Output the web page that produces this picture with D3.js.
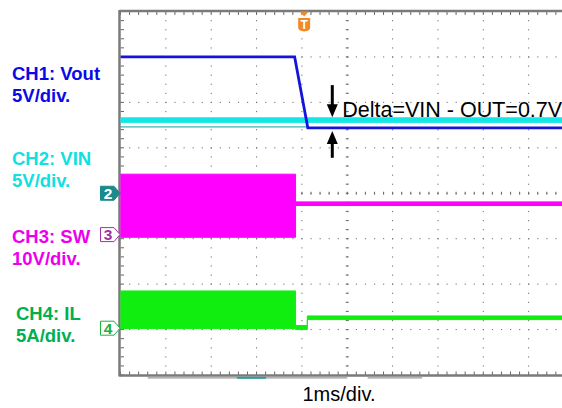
<!doctype html>
<html>
<head>
<meta charset="utf-8">
<script src="https://cdn.jsdelivr.net/npm/d3@7/dist/d3.min.js"></script>
<style>
body {margin: 0; background: #fff;}
svg {display: block;}
</style>
</head>
<body>
<svg id="scope" width="562" height="408"></svg>
<script>
// time axis: 1 ms/div, screen starts at t = 0
var divsX = 10, divsY = 8;

// CH1 Vout (V), 5V/div
var voutTime = [0, 3.84, 4.13, 10];
var voutVal  = [15.0, 15.0, 7.2, 7.2];

// CH2 VIN (V), 5V/div - noisy band
var vinTime = [0, 10];
var vinLow  = [7.8, 7.8];
var vinHigh = [8.3, 8.3];

// thin reference trace under the VIN band (V)
var refTime = [0, 4.13];
var refVal  = [7.3, 7.3];

// CH3 SW (V), 10V/div - switching band then flat
var swTime = [0, 3.86, 3.86, 10];
var swLow  = [-0.6, -0.6, 6.4, 6.4];
var swHigh = [13.3, 13.3, 7.2, 7.2];

// CH4 IL (A), 5A/div
var ilTime = [0, 3.86, 3.86, 4.12, 4.12, 10];
var ilLow  = [-0.05, -0.05, -0.15, -0.15, 0.95, 0.95];
var ilHigh = [4.1, 4.1, 0.3, 0.3, 1.35, 1.35];

var triggerTime = 4.05;
var arrowTime = 4.67;
var deltaLabel = "Delta=VIN - OUT=0.7V";

var labels = [
  {ch: "ch1", lines: ["CH1: Vout", "5V/div."]},
  {ch: "ch2", lines: ["CH2: VIN", "5V/div."]},
  {ch: "ch3", lines: ["CH3: SW", "10V/div."]},
  {ch: "ch4", lines: ["CH4: IL", "5A/div."]}
];

var channels = {
  ch1: {perDiv: 5,  offset: 0,     trace: "#1414dc", text: "#0a0ae6", labelX: 12, labelY: 80},
  ch2: {perDiv: 5,  offset: 0,     trace: "#14e6e6", text: "#10e0e0", labelX: 12, labelY: 165},
  ch3: {perDiv: 10, offset: -0.91, trace: "#ff00ff", text: "#ec00ec", labelX: 12, labelY: 243},
  ch4: {perDiv: 5,  offset: -2.97, trace: "#10ee10", text: "#00b050", labelX: 16, labelY: 320}
};

var svg = d3.select("#scope");
var font = "'Liberation Sans', Arial, sans-serif";

var x = d3.scaleLinear().domain([0, divsX]).range([120.5, 574]);
var yDiv = d3.scaleLinear().domain([-divsY / 2, divsY / 2]).range([375, 11.5]);
function chY(name) {
  var c = channels[name];
  return function(v) { return yDiv(v / c.perDiv + c.offset); };
}

// ---- graticule
var grid = svg.append("g");
var minors = d3.range(0, divsX * 5 + 1).map(function(i) { return i / 5; });
var minorsY = d3.range(0, divsY * 5 + 1).map(function(i) { return -4 + i / 5; });
var dot = "#6e6e6e";

// dotted vertical lines
d3.range(1, divsX).forEach(function(k) {
  grid.selectAll(null).data(minorsY).enter().append("rect")
    .attr("x", x(k) - 0.5).attr("y", function(d) { return yDiv(d) - 0.5; })
    .attr("width", 1).attr("height", 1.2).attr("fill", dot);
});
// dotted horizontal lines
d3.range(-3, 4).forEach(function(k) {
  grid.selectAll(null).data(minors).enter().append("rect")
    .attr("x", function(d) { return x(d) - 0.5; }).attr("y", yDiv(k) - 0.5)
    .attr("width", 1.2).attr("height", 1).attr("fill", dot);
});
// centre axis ticks
grid.selectAll(null).data(minors).enter().append("rect")
  .attr("x", function(d) { return x(d) - 0.5; }).attr("y", yDiv(0) - 1.5)
  .attr("width", 1).attr("height", 3).attr("fill", dot);
grid.selectAll(null).data(minorsY).enter().append("rect")
  .attr("x", x(5) - 1.5).attr("y", function(d) { return yDiv(d) - 0.5; })
  .attr("width", 3).attr("height", 1).attr("fill", dot);

// border ticks
grid.selectAll(null).data(minors).enter().append("rect")
  .attr("x", function(d) { return x(d) - 0.5; }).attr("y", yDiv(4))
  .attr("width", 1).attr("height", 3.5).attr("fill", "#666");
grid.selectAll(null).data(minors).enter().append("rect")
  .attr("x", function(d) { return x(d) - 0.5; }).attr("y", yDiv(-4) - 3.5)
  .attr("width", 1).attr("height", 3.5).attr("fill", "#666");
grid.selectAll(null).data(minorsY).enter().append("rect")
  .attr("x", x(0)).attr("y", function(d) { return yDiv(d) - 0.5; })
  .attr("width", 3.5).attr("height", 1).attr("fill", "#666");

// border lines
grid.append("line").attr("x1", x(0) - 1).attr("x2", 562).attr("y1", yDiv(4) - 0.5).attr("y2", yDiv(4) - 0.5)
  .attr("stroke", "#7a7a7a").attr("stroke-width", 2.5);
grid.append("line").attr("x1", x(0) - 1).attr("x2", 562).attr("y1", yDiv(-4) + 0.5).attr("y2", yDiv(-4) + 0.5)
  .attr("stroke", "#7a7a7a").attr("stroke-width", 2.5);
grid.append("line").attr("x1", x(0) - 1).attr("x2", x(0) - 1).attr("y1", yDiv(4) - 1.5).attr("y2", yDiv(-4) + 1.5)
  .attr("stroke", "#7a7a7a").attr("stroke-width", 2.5);

// record-view bar under the screen
var barY = yDiv(-4) + 2.8;
[[0.6, 5.0], [5.45, 6.65]].forEach(function(s) {
  grid.append("line").attr("x1", x(s[0])).attr("x2", x(s[1])).attr("y1", barY).attr("y2", barY)
    .attr("stroke", "#999").attr("stroke-width", 1.2);
});
grid.append("line").attr("x1", x(2.57)).attr("x2", x(3.21)).attr("y1", barY).attr("y2", barY)
  .attr("stroke", "#2aa0a0").attr("stroke-width", 2);

// ---- traces
svg.append("clipPath").attr("id", "screen").append("rect")
  .attr("x", x(0)).attr("y", yDiv(4)).attr("width", 562 - x(0)).attr("height", yDiv(-4) - yDiv(4));
var traces = svg.append("g").attr("clip-path", "url(#screen)");

function band(name, t, lo, hi) {
  var y = chY(name);
  var rows = d3.zip(t, lo, hi);
  var area = d3.area()
    .x(function(d) { return x(d[0]); })
    .y0(function(d) { return y(d[1]); })
    .y1(function(d) { return y(d[2]); });
  traces.append("path").datum(rows).attr("d", area)
    .attr("fill", channels[name].trace)
    .attr("stroke", channels[name].trace).attr("stroke-width", 1);
}
function trace(name, t, v, color, width) {
  var y = chY(name);
  var line = d3.line().x(function(d) { return x(d[0]); }).y(function(d) { return y(d[1]); });
  traces.append("path").datum(d3.zip(t, v)).attr("d", line)
    .attr("fill", "none").attr("stroke", color).attr("stroke-width", width);
}

band("ch4", ilTime, ilLow, ilHigh);
band("ch3", swTime, swLow, swHigh);
band("ch2", vinTime, vinLow, vinHigh);
trace("ch1", refTime, refVal, "#3cb4b4", 1.2);
trace("ch1", voutTime, voutVal, channels.ch1.trace, 2.8);

// ---- channel ground markers
function marker(name, label, filled, color) {
  var cy = chY(name)(0), g = svg.append("g");
  var xl = 100.5, xr = 114, tip = 120, h = 7;
  g.append("path")
    .attr("d", "M" + xl + "," + (cy - h) + "L" + xr + "," + (cy - h) + "L" + tip + "," + cy +
      "L" + xr + "," + (cy + h) + "L" + xl + "," + (cy + h) + "Z")
    .attr("fill", filled ? color : "#fff").attr("stroke", color).attr("stroke-width", 1);
  g.append("text").attr("x", 108).attr("y", cy + 5.5)
    .attr("text-anchor", "middle").style("font-family", font).style("font-size", "15.5px")
    .style("font-weight", "bold").attr("fill", filled ? "#fff" : color).text(label);
}
marker("ch2", "2", true, "#1a8a8a");
marker("ch3", "3", false, "#a030a8");
marker("ch4", "4", false, "#20b040");

// ---- trigger marker
var tx = x(triggerTime), ty = yDiv(4);
svg.append("path").attr("d", "M" + (tx - 4.5) + "," + ty + "L" + (tx + 4.5) + "," + ty + "L" + tx + "," + (ty + 5) + "Z")
  .attr("fill", "#f08a24");
svg.append("path")
  .attr("d", "M" + (tx - 6) + "," + (ty + 6.5) + "L" + (tx + 6) + "," + (ty + 6.5) + "L" + (tx + 6) + "," + (ty + 16) +
    "Q" + (tx + 6) + "," + (ty + 19.5) + " " + tx + "," + (ty + 20) + "Q" + (tx - 6) + "," + (ty + 19.5) + " " + (tx - 6) + "," + (ty + 16) + "Z")
  .attr("fill", "#f08a24");
svg.append("text").attr("x", tx).attr("y", ty + 17).attr("text-anchor", "middle")
  .style("font-family", font).style("font-size", "12px").style("font-weight", "bold")
  .attr("fill", "#fff").text("T");

// ---- delta annotation
var y1 = chY("ch1"), ax = x(arrowTime);
function arrow(from, to) {
  var yf = y1(from), yt = y1(to), dir = yt > yf ? 1 : -1;
  svg.append("line").attr("x1", ax).attr("x2", ax).attr("y1", yf).attr("y2", yt - dir * 10)
    .attr("stroke", "#000").attr("stroke-width", 3);
  svg.append("path").attr("d", "M" + (ax - 5.5) + "," + (yt - dir * 13) + "L" + (ax + 5.5) + "," + (yt - dir * 13) + "L" + ax + "," + yt + "Z")
    .attr("fill", "#000");
}
arrow(11.9, 8.35);
arrow(3.9, 6.85);
svg.append("text").attr("x", ax + 10).attr("y", y1(8.3) - 0.5)
  .style("font-family", font).style("font-size", "21.5px").attr("fill", "#000").text(deltaLabel);

// ---- channel labels
labels.forEach(function(l) {
  var c = channels[l.ch];
  svg.append("text").attr("x", c.labelX).attr("y", c.labelY)
    .style("font-family", font).style("font-size", "18.5px").style("font-weight", "bold")
    .attr("fill", c.text)
    .selectAll("tspan").data(l.lines).enter().append("tspan")
    .attr("x", c.labelX).attr("dy", function(d, i) { return i ? 21.5 : 0; })
    .text(function(d) { return d; });
});

// ---- time base
svg.append("text").attr("x", 339).attr("y", 401).attr("text-anchor", "middle")
  .style("font-family", font).style("font-size", "20px").attr("fill", "#000").text("1ms/div.");
</script>
</body>
</html>
